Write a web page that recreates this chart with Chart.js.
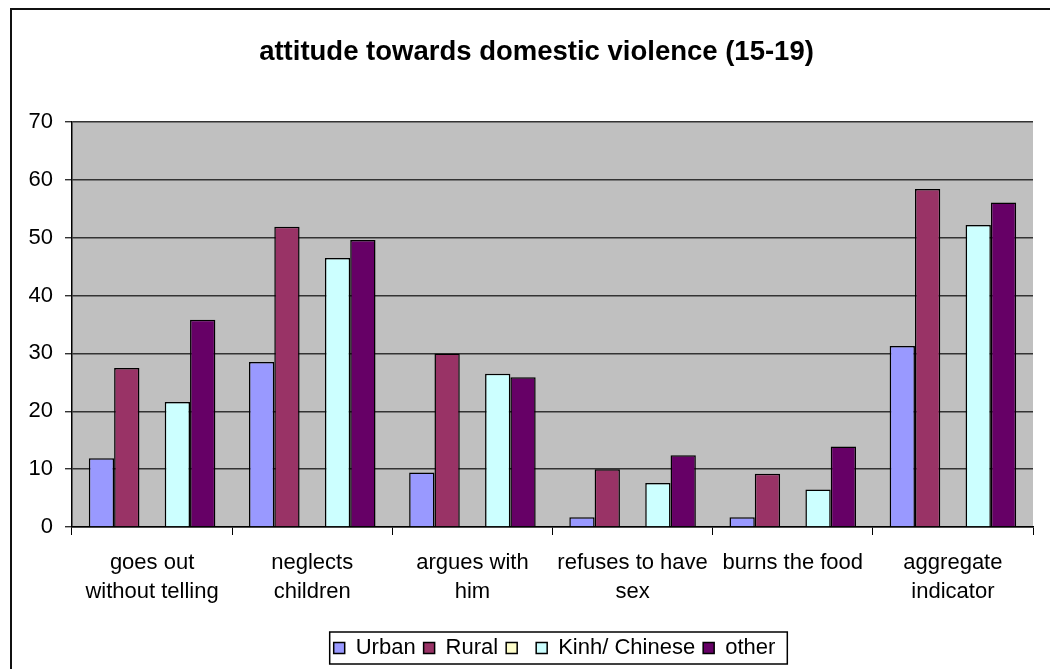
<!DOCTYPE html>
<html>
<head>
<meta charset="utf-8">
<title>attitude towards domestic violence (15-19)</title>
<script src="https://cdn.jsdelivr.net/npm/chart.js@4.4.1/dist/chart.umd.min.js"></script>
<style>
  html, body { margin: 0; padding: 0; background: #fff; }
  #wrap { position: relative; width: 1050px; height: 669px; overflow: hidden; }
  #frame { position: absolute; left: 10px; top: 8px; width: 1100px; height: 700px;
           border-left: 2px solid #111; border-top: 2px solid #111; }
  canvas { position: absolute; left: 0; top: 0; }
</style>
</head>
<body>
<div id="wrap">
  <div id="frame"></div>
  <canvas id="chart" width="1050" height="669"></canvas>
</div>
<script>
const categories = [
    ['goes out', 'without telling'],
    ['neglects', 'children'],
    ['argues with', 'him'],
    ['refuses to have', 'sex'],
    'burns the food',
    ['aggregate', 'indicator']
];
const urban = [11.9, 28.5, 9.4, 1.7, 1.7, 31.3];
const rural = [27.5, 51.9, 30.0, 10.0, 9.2, 58.4];
const blank = [null, null, null, null, null, null];
const kinh = [21.6, 46.5, 26.5, 7.6, 6.5, 52.2];
const other = [35.8, 49.6, 25.9, 12.4, 13.9, 56.1];
const yMax = 70;
const yStep = 10;

const FONT = 'Arial, "Liberation Sans", sans-serif';

// grey plot area behind the bars
const plotBackground = {
    id: 'plotBackground',
    beforeDraw(chart) {
        const a = chart.chartArea;
        const ctx = chart.ctx;
        ctx.save();
        ctx.fillStyle = '#c0c0c0';
        ctx.fillRect(a.left, a.top, a.right - a.left, a.bottom - a.top);
        ctx.restore();
    }
};

// nudge title and legend sideways, then box the legend
const titleShift = 20;
const legendShift = 38;
const legendFrame = {
    id: 'legendFrame',
    afterLayout(chart) {
        const t = chart.titleBlock;
        if (t) { t.left += titleShift; t.right += titleShift; }
        const l = chart.legend;
        l.left += legendShift; l.right += legendShift;
        l.legendHitBoxes.forEach(b => b.left += legendShift);
    },
    afterDraw(chart) {
        const boxes = chart.legend.legendHitBoxes;
        if (!boxes.length) return;
        let x0 = Infinity, x1 = -Infinity, y0 = Infinity, y1 = -Infinity;
        boxes.forEach(b => {
            x0 = Math.min(x0, b.left);
            x1 = Math.max(x1, b.left + b.width);
            y0 = Math.min(y0, b.top);
            y1 = Math.max(y1, b.top + b.height);
        });
        const ctx = chart.ctx;
        ctx.save();
        ctx.strokeStyle = '#000';
        ctx.lineWidth = 1.5;
        ctx.strokeRect(x0 - 4, y0 - 5, x1 - x0 + 16, y1 - y0 + 10);
        ctx.restore();
    }
};

function dataset(label, data, color) {
    return {
        label: label,
        data: data,
        backgroundColor: color,
        borderColor: '#000',
        borderWidth: 1.5,
        categoryPercentage: 0.79,
        barPercentage: 1.0
    };
}

new Chart(document.getElementById('chart'), {
    type: 'bar',
    data: {
        labels: categories,
        datasets: [
            dataset('Urban', urban, '#9999ff'),
            dataset('Rural', rural, '#993366'),
            dataset('', blank, '#ffffcc'),
            dataset('Kinh/ Chinese', kinh, '#ccffff'),
            dataset('other', other, '#660066')
        ]
    },
    options: {
        responsive: false,
        animation: false,
        layout: { padding: { left: 0, right: 17, top: 0, bottom: 0 } },
        plugins: {
            title: {
                display: true,
                text: 'attitude towards domestic violence (15-19)',
                color: '#000',
                font: { family: FONT, size: 27.5, weight: 'bold', lineHeight: 1.2 },
                padding: { top: 36, bottom: 53 }
            },
            legend: {
                position: 'bottom',
                labels: {
                    color: '#000',
                    font: { family: FONT, size: 22 },
                    boxWidth: 11,
                    boxHeight: 11,
                    padding: 8
                }
            },
            tooltip: { enabled: false }
        },
        scales: {
            x: {
                afterFit(scale) { scale.height = 102; },
                grid: {
                    drawOnChartArea: false,
                    color: '#000',
                    tickLength: 8
                },
                border: { color: '#000', width: 1.5 },
                ticks: {
                    color: '#000',
                    font: { family: FONT, size: 22, lineHeight: 1.32 },
                    padding: 13,
                    maxRotation: 0,
                    autoSkip: false
                }
            },
            y: {
                min: 0,
                max: yMax,
                afterFit(scale) { scale.width = 72; },
                grid: {
                    color: '#333',
                    lineWidth: 1.4,
                    tickLength: 7
                },
                border: { color: '#000', width: 1.5 },
                ticks: {
                    stepSize: yStep,
                    color: '#000',
                    font: { family: FONT, size: 22 },
                    padding: 12
                }
            }
        }
    },
    plugins: [plotBackground, legendFrame]
});
</script>
</body>
</html>
